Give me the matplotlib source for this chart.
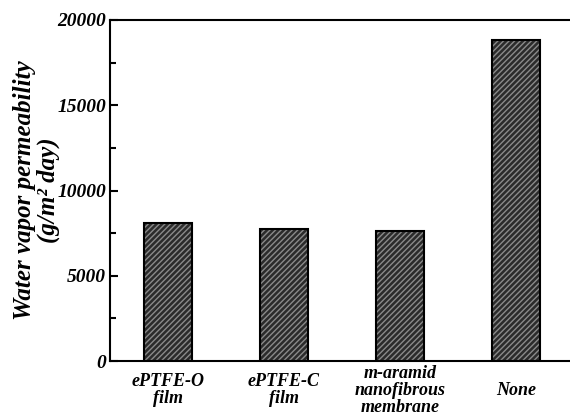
import numpy as np
import matplotlib
matplotlib.use('Agg')
import matplotlib.pyplot as plt
from matplotlib.ticker import MultipleLocator

# Datos
categorias = ['ePTFE-O\nfilm', 'ePTFE-C\nfilm', 'm-aramid\nnanofibrous\nmembrane', 'None']
permeabilidad = [8100, 7750, 7650, 18800]

plt.rcParams['font.family'] = 'Liberation Serif'
plt.rcParams['font.weight'] = 'bold'
plt.rcParams['font.style'] = 'italic'
plt.rcParams['axes.labelweight'] = 'bold'

fig = plt.figure(figsize=(5.7, 4.16), dpi=100)
ax = fig.add_axes([110 / 570, 1 - 361 / 416, 464 / 570, 341 / 416])

x = np.arange(len(categorias))
# relleno rayado y después el borde negro
ax.bar(x, permeabilidad, width=0.42, color='#2b2b2b', edgecolor='#8a8a8a',
       hatch='//////', linewidth=0, zorder=2)
ax.bar(x, permeabilidad, width=0.42, fill=False, edgecolor='black',
       linewidth=1.5, zorder=3)

ax.set_xlim(-0.5, 3.5)
ax.set_ylim(0, 20000)
ax.yaxis.set_major_locator(MultipleLocator(5000))
ax.yaxis.set_minor_locator(MultipleLocator(2500))
ax.tick_params(axis='y', which='both', direction='in', width=1.5, labelsize=14, pad=3)
ax.tick_params(axis='y', which='major', length=6)
ax.tick_params(axis='y', which='minor', length=4)
ax.tick_params(axis='x', length=0, labelsize=13, pad=21)

ax.set_xticks(x)
ax.set_xticklabels(categorias, linespacing=1.0, va='center')

ax.set_ylabel('Water vapor permeability\n(g/m² day)', fontsize=18, linespacing=1.0, labelpad=-2)

for s in ax.spines.values():
    s.set_linewidth(1.5)

fig.savefig('out.png', dpi=100)
